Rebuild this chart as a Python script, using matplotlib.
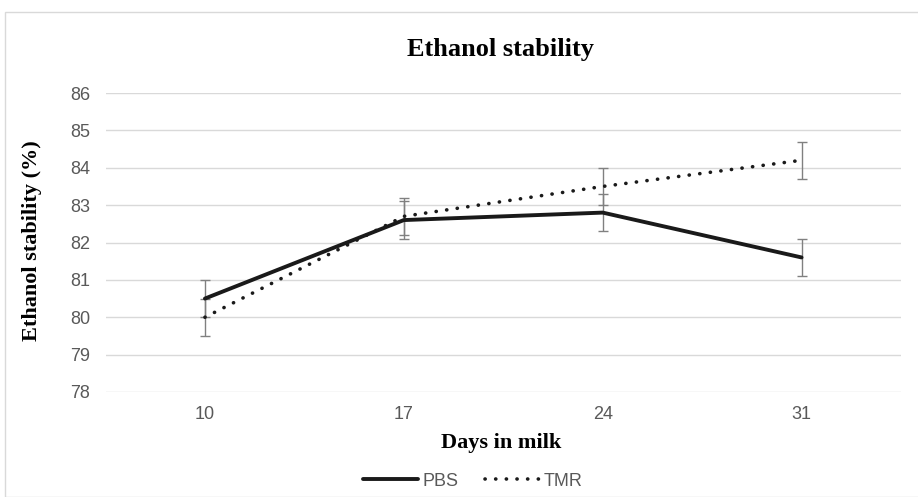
import matplotlib
matplotlib.use("Agg")
import matplotlib.pyplot as plt
from matplotlib.patches import Rectangle

days = ["10", "17", "24", "31"]
pbs = [80.5, 82.6, 82.8, 81.6]
tmr = [80.0, 82.7, 83.5, 84.2]
pbs_err = [0.5, 0.5, 0.5, 0.5]
tmr_err = [0.5, 0.5, 0.5, 0.5]
yticks = [78, 79, 80, 81, 82, 83, 84, 85, 86]

GRID = "#d9d9d9"
TICK = "#595959"
ERR = "#808080"
LINE = "#1a1a1a"
W, H = 918, 497

fig = plt.figure(figsize=(W / 100, H / 100), dpi=100)
fig.patches.append(Rectangle((5 / W, 0), 1, 1 - 12 / H, transform=fig.transFigure,
                             fill=False, edgecolor=GRID, linewidth=1.0))

ax = fig.add_axes([105.5 / W, 1 - 392 / H, (901 - 105.5) / W, (392 - 93) / H])
x = list(range(len(days)))

ax.errorbar(x, pbs, yerr=pbs_err, fmt="none", ecolor=ERR, elinewidth=1.0, capsize=3.8, capthick=1.0, zorder=2)
ax.errorbar(x, tmr, yerr=tmr_err, fmt="none", ecolor=ERR, elinewidth=1.0, capsize=3.8, capthick=1.0, zorder=2)
ax.plot(x, pbs, color=LINE, linewidth=2.8, solid_capstyle="round", label="PBS", zorder=3)
ax.plot(x, tmr, color=LINE, linewidth=2.6, linestyle=(0, (0.05, 2.9)), dash_capstyle="round",
        label="TMR", zorder=3)

ax.set_xlim(-0.5, len(days) - 0.5)
ax.set_ylim(78, 86)
ax.set_xticks(x, days)
ax.set_yticks(yticks)
ax.grid(True, axis="y", color=GRID, linewidth=1.0)
ax.set_axisbelow(True)
for s in ax.spines.values():
    s.set_visible(False)
ax.tick_params(axis="y", length=0, labelsize=13, labelcolor=TICK, pad=11)
ax.tick_params(axis="x", length=0, labelsize=13, labelcolor=TICK, pad=10)
for lab in ax.get_xticklabels() + ax.get_yticklabels():
    lab.set_family("Liberation Sans")

serif = {"family": "Liberation Serif", "weight": "bold"}
fig.text(501 / W, 1 - 56 / H, "Ethanol stability", ha="center", va="baseline", size=19, **serif)
fig.text(501 / W, 1 - 448 / H, "Days in milk", ha="center", va="baseline", size=16, **serif)
fig.text(32 / W, 1 - 241 / H, "Ethanol stability (%)", ha="center", va="center", rotation=90,
         size=16, **serif)

leg = fig.legend(loc="center", bbox_to_anchor=(473 / W, 1 - 481 / H), ncol=2, frameon=False,
                 prop={"family": "Liberation Sans", "size": 13}, handlelength=3.0, columnspacing=1.5,
                 handletextpad=0.25)
for t in leg.get_texts():
    t.set_color(TICK)

fig.savefig("out.png", dpi=100)
